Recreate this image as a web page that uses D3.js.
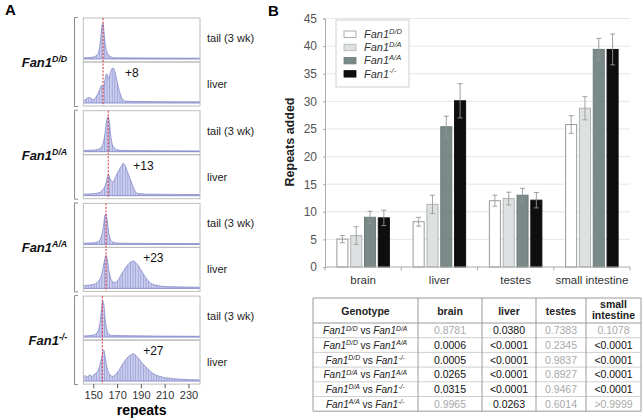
<!DOCTYPE html>
<html><head><meta charset="utf-8">
<script src="https://cdn.jsdelivr.net/npm/d3@7/dist/d3.min.js"></script>
<style>
body{margin:0;background:#fff;}
svg{font-family:"Liberation Sans",Arial,sans-serif;}
</style></head>
<body>
<svg id="chart" width="643" height="418"></svg>
<script>
// ---------- DATA ----------
const genotypes = ["D/D", "D/A", "A/A", "-/-"];
const tissues = ["brain", "liver", "testes", "small intestine"];
const meanDD = [5.05, 8.2, 12.0, 25.8];
const meanDA = [5.7, 11.35, 12.4, 28.75];
const meanAA = [9.0, 25.4, 13.0, 39.4];
const meanKO = [8.9, 30.1, 12.1, 39.4];
const errDD = [0.65, 0.8, 1.0, 1.6];
const errDA = [1.6, 1.65, 1.15, 2.1];
const errAA = [1.1, 1.9, 1.25, 2.0];
const errKO = [1.4, 3.1, 1.4, 2.8];
const yTicks = [0, 5, 10, 15, 20, 25, 30, 35, 40, 45];
const repeatTicks = [150, 170, 190, 210, 230];
const expansions = ["+8", "+13", "+23", "+27"];
const progenitor = [158.2, 162.6, 160.7, 157.6];
// traces: [repeat, relative intensity]
const tailDD = [[141,0.03],[148,0.04],[151,0.06],[153.5,0.12],[155,0.25],[156.3,0.55],[157.3,0.85],[158.2,0.92],[159,0.7],[160,0.38],[161,0.22],[162.5,0.12],[164.5,0.06],[168,0.03],[240,0.02]];
const liverDD = [[141,0.04],[144,0.1],[146,0.14],[148,0.12],[150,0.08],[152,0.14],[154,0.25],[155.5,0.35],[157,0.45],[158.5,0.4],[160,0.62],[161.3,0.75],[162.8,0.62],[164.5,0.8],[166.5,0.9],[168,0.82],[170,0.55],[172,0.3],[174.5,0.1],[177,0.05],[185,0.04],[240,0.03]];
const tailDA = [[141,0.03],[150,0.04],[155,0.07],[157.5,0.15],[159.5,0.4],[161,0.75],[162.3,0.9],[163.3,0.8],[164.5,0.45],[165.5,0.25],[167,0.12],[170,0.05],[175,0.03],[240,0.02]];
const liverDA = [[141,0.04],[150,0.05],[155,0.08],[158,0.15],[160.5,0.3],[162.6,0.55],[164,0.45],[166.5,0.35],[169,0.5],[171.5,0.65],[173.5,0.75],[175.2,0.83],[177,0.75],[179.5,0.55],[182,0.35],[184.5,0.15],[187,0.06],[195,0.04],[240,0.03]];
const tailAA = [[141,0.03],[150,0.04],[154,0.07],[156.5,0.18],[158.5,0.45],[159.8,0.75],[160.7,0.78],[161.8,0.6],[163,0.3],[164.5,0.12],[167,0.05],[172,0.03],[240,0.02]];
const liverAA = [[141,0.06],[145,0.08],[150,0.1],[154,0.18],[157,0.35],[159,0.65],[160.7,0.85],[162,0.7],[163.5,0.4],[165.5,0.2],[168,0.15],[171,0.22],[174,0.38],[177,0.52],[180,0.64],[183.5,0.7],[186.5,0.64],[190,0.48],[194,0.28],[198,0.14],[203,0.08],[210,0.05],[218,0.04],[240,0.03]];
const tailKO = [[141,0.03],[148,0.04],[152,0.08],[154.5,0.2],[156,0.45],[157.2,0.8],[157.9,0.93],[158.8,0.85],[160,0.45],[161.3,0.2],[163,0.08],[166,0.04],[240,0.02]];
const liverKO = [[141,0.08],[143,0.14],[145,0.1],[147,0.16],[149,0.12],[151,0.18],[153,0.22],[155,0.35],[157,0.6],[158.8,0.8],[160,0.6],[161.5,0.35],[163.5,0.18],[166.5,0.12],[169,0.18],[172,0.3],[175,0.45],[178,0.58],[181,0.66],[183.5,0.7],[186.5,0.64],[190,0.5],[194.7,0.35],[200,0.2],[205.8,0.12],[212,0.08],[222.6,0.05],[240,0.03]];
const tailTraces = [tailDD, tailDA, tailAA, tailKO];
const liverTraces = [liverDD, liverDA, liverAA, liverKO];
// p-value table
const comparisons = [["D/D","D/A"],["D/D","A/A"],["D/D","-/-"],["D/A","A/A"],["D/A","-/-"],["A/A","-/-"]];
const pBrain = ["0.8781","0.0006","0.0005","0.0265","0.0315","0.9965"];
const pLiver = ["0.0380","<0.0001","<0.0001","<0.0001","<0.0001","0.0263"];
const pTestes = ["0.7383","0.2345","0.9837","0.8927","0.9467","0.6014"];
const pSI = ["0.1078","<0.0001","<0.0001","<0.0001","<0.0001",">0.9999"];
const sigBrain = [false,true,true,true,true,false];
const sigLiver = [true,true,true,true,true,true];
const sigTestes = [false,false,false,false,false,false];
const sigSI = [false,true,true,true,true,false];

// ---------- HELPERS ----------
const svg = d3.select("#chart");
function fanText(sel, sup, size) {
  sel.append("tspan").text("Fan1");
  sel.append("tspan").attr("dy", -size*0.38).attr("font-size", size*0.68).text(sup);
  sel.append("tspan").attr("dy", size*0.38).attr("font-size", size*0.68).text("\u200A");
}

// stripe pattern for traces
const defs = svg.append("defs");
const pat = defs.append("pattern").attr("id","stripes").attr("patternUnits","userSpaceOnUse")
  .attr("width",2.6).attr("height",10);
pat.append("rect").attr("width",2.6).attr("height",10).attr("fill","#ccceed");
pat.append("rect").attr("x",0).attr("width",0.9).attr("height",10).attr("fill","#9ea3da");

// ---------- PANEL A ----------
svg.append("text").attr("x",5).attr("y",15).attr("font-size",15).attr("font-weight","bold").text("A");
const xA = d3.scaleLinear().domain([141.6, 239.7]).range([83.3, 200]);
const panelH = 44, groupStep = 92.7, top0 = 18;
genotypes.forEach((g, i) => {
  const y0 = top0 + i*groupStep;
  // bracket
  svg.append("path").attr("d", `M78,${y0-0.5}H74.5V${y0+2*panelH+0.5}H78`).attr("fill","none").attr("stroke","#8a8a8a").attr("stroke-width",1);
  [tailTraces[i], liverTraces[i]].forEach((tr, k) => {
    const py = y0 + k*panelH;
    const base = py + panelH - 3;
    const yA = d3.scaleLinear().domain([0,1]).range([base, base-39]);
    const cid = `clip${i}${k}`;
    defs.append("clipPath").attr("id",cid).append("rect").attr("x",83.3).attr("y",py).attr("width",200-83.3).attr("height",panelH);
    const area = d3.area().x(d=>xA(d[0])).y0(base).y1(d=>yA(d[1])).curve(d3.curveMonotoneX);
    const line = d3.line().x(d=>xA(d[0])).y(d=>yA(d[1])).curve(d3.curveMonotoneX);
    const gg = svg.append("g").attr("clip-path",`url(#${cid})`);
    gg.append("path").attr("d", area(tr)).attr("fill","url(#stripes)");
    gg.append("path").attr("d", line(tr)).attr("fill","none").attr("stroke","#7a80c4").attr("stroke-width",0.7);
    gg.append("line").attr("x1",83.3).attr("x2",200).attr("y1",base).attr("y2",base).attr("stroke","#7a80c4").attr("stroke-width",0.8);
    svg.append("rect").attr("x",83.3).attr("y",py).attr("width",200-83.3).attr("height",panelH)
      .attr("fill","none").attr("stroke","#bdbdbd").attr("stroke-width",1);
    svg.append("text").attr("x",207).attr("y",py+panelH/2+(k?4:2)).attr("font-size",11).attr("fill","#222")
      .text(k ? "liver" : "tail (3 wk)");
  });
  // progenitor line
  svg.append("line").attr("x1",xA(progenitor[i])).attr("x2",xA(progenitor[i]))
    .attr("y1",y0).attr("y2",y0+2*panelH).attr("stroke","#d8333a").attr("stroke-width",1).attr("stroke-dasharray","2,1.5");
  // expansion label
  const peak = liverTraces[i].reduce((a,b)=> (b[0]>progenitor[i]+4 && b[1]>a[1]) ? b : a, [0,0]);
  svg.append("text").attr("x", xA(peak[0]) + (i===0 ? 12 : 10)).attr("y", y0+panelH+15).attr("font-size",12).attr("fill","#111")
    .text(expansions[i]);
  // genotype label
  const t = svg.append("text").attr("x",68).attr("y",y0+panelH+5).attr("text-anchor","end")
    .attr("font-size",13).attr("font-weight","bold").attr("font-style","italic").attr("fill","#111");
  fanText(t, genotypes[i], 13);
});
const axA = svg.append("g").attr("transform",`translate(0,${top0+3*groupStep+2*panelH})`)
  .call(d3.axisBottom(xA).tickValues(repeatTicks).tickSize(4).tickPadding(3));
axA.select(".domain").remove();
axA.selectAll("line").attr("stroke","#555");
axA.selectAll("text").attr("font-size",11).attr("fill","#333").attr("font-family","Liberation Sans, Arial, sans-serif");
svg.append("text").attr("x",141.6).attr("y",415).attr("text-anchor","middle").attr("font-size",14).attr("font-weight","bold").text("repeats");

// ---------- PANEL B ----------
svg.append("text").attr("x",268).attr("y",16).attr("font-size",15).attr("font-weight","bold").text("B");
const x0 = d3.scaleBand().domain(tissues).range([325, 630]);
const x1 = d3.scaleBand().domain(genotypes).range([0, x0.bandwidth()]).paddingInner(0.2).paddingOuter(0.86);
const yB = d3.scaleLinear().domain([0,45]).range([267, 18.5]);
const colors = ["#ffffff","#dde1e1","#7a8a88","#0e0e0e"];
const strokes = ["#9a9a9a","#b0b4b4","#6d7c7a","#0e0e0e"];
const means = [meanDD, meanDA, meanAA, meanKO];
const errs = [errDD, errDA, errAA, errKO];

// gridlines
svg.append("g").selectAll("line").data(yTicks.filter(v=>v>0)).join("line")
  .attr("x1",325).attr("x2",630).attr("y1",d=>yB(d)).attr("y2",d=>yB(d))
  .attr("stroke","#e6e6e6").attr("stroke-width",1);
const axY = svg.append("g").attr("transform","translate(325,0)")
  .call(d3.axisLeft(yB).tickValues(yTicks).tickSize(2).tickPadding(6));
axY.select(".domain").attr("stroke","#aaa");
axY.selectAll("line").attr("stroke","#aaa");
axY.selectAll("text").attr("font-size",12).attr("fill","#555").attr("font-family","Liberation Sans, Arial, sans-serif");
svg.append("text").attr("transform","translate(294,142) rotate(-90)").attr("text-anchor","middle")
  .attr("font-size",12.5).attr("font-weight","bold").attr("fill","#222").text("Repeats added");

// bars
genotypes.forEach((g, gi) => {
  const grp = svg.append("g");
  grp.selectAll("rect").data(tissues).join("rect")
    .attr("x", t => x0(t) + x1(g)).attr("width", x1.bandwidth())
    .attr("y", (t,ti) => yB(means[gi][ti])).attr("height", (t,ti) => yB(0) - yB(means[gi][ti]))
    .attr("fill", colors[gi]).attr("stroke", strokes[gi]).attr("stroke-width",1);
  tissues.forEach((t, ti) => {
    const cx = x0(t) + x1(g) + x1.bandwidth()/2;
    const hi = yB(means[gi][ti] + errs[gi][ti]), lo = yB(means[gi][ti] - errs[gi][ti]);
    const ec = gi >= 2 ? "#8f9696" : "#9a9a9a";
    grp.append("line").attr("x1",cx).attr("x2",cx).attr("y1",hi).attr("y2",lo).attr("stroke",ec).attr("stroke-width",0.9);
    grp.append("line").attr("x1",cx-2.5).attr("x2",cx+2.5).attr("y1",hi).attr("y2",hi).attr("stroke",ec).attr("stroke-width",0.9);
    grp.append("line").attr("x1",cx-2.5).attr("x2",cx+2.5).attr("y1",lo).attr("y2",lo).attr("stroke",ec).attr("stroke-width",0.9);
  });
});
// x axis
svg.append("line").attr("x1",325).attr("x2",630).attr("y1",267).attr("y2",267).attr("stroke","#aaa");
const bounds = tissues.map(t => x0(t)).concat([630]);
svg.append("g").selectAll("line").data(bounds).join("line")
  .attr("x1",d=>d).attr("x2",d=>d).attr("y1",267).attr("y2",270.5).attr("stroke","#aaa");
svg.append("g").selectAll("text").data(tissues).join("text")
  .attr("x", t => x0(t) + x0.bandwidth()/2).attr("y",284).attr("text-anchor","middle")
  .attr("font-size",11.5).attr("fill","#333").text(t => t);

// legend
svg.append("rect").attr("x",336).attr("y",20).attr("width",73).attr("height",67)
  .attr("fill","#fff").attr("stroke","#cfcfcf");
genotypes.forEach((g, gi) => {
  const ly = 34 + gi*13.2;
  svg.append("rect").attr("x",344).attr("y",ly-3).attr("width",12).attr("height",6.5)
    .attr("fill",colors[gi]).attr("stroke",strokes[gi]).attr("stroke-width",0.8);
  const t = svg.append("text").attr("x",364).attr("y",ly+4).attr("font-size",11)
    .attr("font-style","italic").attr("fill","#333");
  fanText(t, g, 11);
});

// ---------- TABLE ----------
const colX = [313, 418, 482, 536, 586, 641];
const tTop = 298, headH = 25, rowH = 14.7;
const tBottom = tTop + headH + rowH*comparisons.length;
// row lines
const rowYs = d3.range(comparisons.length).map(i => tTop + headH + i*rowH);
svg.append("g").selectAll("line").data(rowYs.slice(1)).join("line")
  .attr("x1",colX[0]).attr("x2",colX[5]).attr("y1",d=>d).attr("y2",d=>d).attr("stroke","#d0d0d0");
svg.append("line").attr("x1",colX[0]).attr("x2",colX[5]).attr("y1",tTop+headH).attr("y2",tTop+headH).attr("stroke","#9a9a9a");
svg.append("g").selectAll("line").data(colX).join("line")
  .attr("x1",d=>d).attr("x2",d=>d).attr("y1",tTop).attr("y2",tBottom).attr("stroke","#9a9a9a");
svg.append("line").attr("x1",colX[0]).attr("x2",colX[5]).attr("y1",tTop).attr("y2",tTop).attr("stroke","#9a9a9a");
svg.append("line").attr("x1",colX[0]).attr("x2",colX[5]).attr("y1",tBottom).attr("y2",tBottom).attr("stroke","#9a9a9a");
const cx = i => (colX[i] + colX[i+1]) / 2;
const heads = ["Genotype","brain","liver","testes"];
heads.forEach((h,i) => {
  svg.append("text").attr("x",cx(i)).attr("y",tTop+headH/2+4).attr("text-anchor","middle")
    .attr("font-size",10.5).attr("font-weight","bold").attr("fill","#222").text(h);
});
svg.append("text").attr("x",cx(4)).attr("y",tTop+10).attr("text-anchor","middle")
  .attr("font-size",10.5).attr("font-weight","bold").attr("fill","#222").text("small");
svg.append("text").attr("x",cx(4)).attr("y",tTop+21).attr("text-anchor","middle")
  .attr("font-size",10.5).attr("font-weight","bold").attr("fill","#222").text("intestine");
const pCols = [[pBrain,sigBrain],[pLiver,sigLiver],[pTestes,sigTestes],[pSI,sigSI]];
comparisons.forEach((c, r) => {
  const ty = tTop + headH + r*rowH + rowH/2 + 3.8;
  const t = svg.append("text").attr("x",cx(0)).attr("y",ty).attr("text-anchor","middle")
    .attr("font-size",10).attr("fill","#222");
  t.append("tspan").attr("font-style","italic").text("Fan1");
  t.append("tspan").attr("font-style","italic").attr("dy",-3.5).attr("font-size",6.8).text(c[0]);
  t.append("tspan").attr("dy",3.5).text(" vs ");
  t.append("tspan").attr("font-style","italic").text("Fan1");
  t.append("tspan").attr("font-style","italic").attr("dy",-3.5).attr("font-size",6.8).text(c[1]);
  t.append("tspan").attr("dy",3.5).attr("font-size",6.8).text("\u200A");
  pCols.forEach(([vals, sig], j) => {
    svg.append("text").attr("x",cx(j+1)).attr("y",ty).attr("text-anchor","middle")
      .attr("font-size",10.5).attr("fill", sig[r] ? "#111" : "#a9a9a9").text(vals[r]);
  });
});
</script>
</body></html>
